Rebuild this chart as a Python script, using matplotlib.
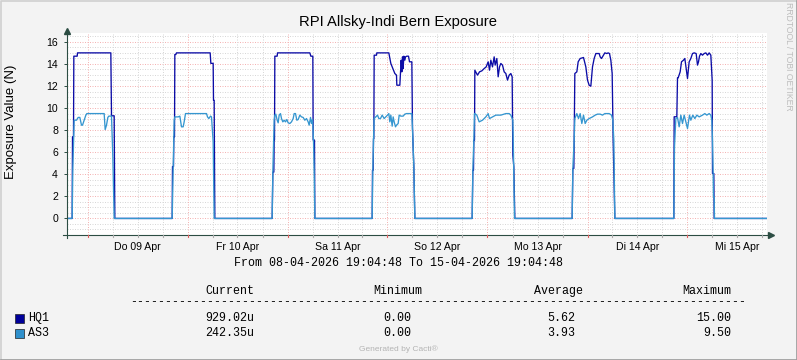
import numpy as np
import matplotlib
matplotlib.use("Agg")
import matplotlib.pyplot as plt
from matplotlib.lines import Line2D
from matplotlib.patches import Rectangle

# hours relative to 2026-04-09 00:00 ; window 08-04 19:04:48 -> 15-04 19:04:48
t_start = -4.92
t_end = 163.08

hq1_hours = [
    -4.92, -3.68, -3.60, -3.36, -3.28, -2.48, -2.40, 5.60, 5.76, 6.40, 6.56,
    20.32, 20.40, 20.64, 20.72, 20.88, 20.96, 21.20, 21.36, 29.44, 29.60, 30.16, 30.24, 30.40, 30.56,
    44.32, 44.48, 44.72, 44.80, 44.88, 44.96, 45.52, 45.60, 53.36, 53.60, 54.08, 54.16, 54.48, 54.56,
    68.32, 68.40, 68.56, 68.64, 68.72, 68.80, 69.36, 69.44, 72.32, 72.80, 73.28, 73.76, 74.16, 74.24,
    74.96, 75.12, 75.28, 75.44, 75.60, 75.76, 75.92, 76.16, 76.32, 76.64, 77.04, 77.28, 77.84, 78.00,
    78.32, 78.56,
    92.32, 92.48, 92.64, 92.72, 92.88, 92.96, 93.60, 94.08, 94.64, 95.20, 95.68, 96.16, 96.48, 96.80,
    97.20, 97.60, 97.84, 98.24, 98.56, 98.88, 99.20, 99.60, 100.00, 100.40, 100.80, 101.20, 101.60,
    101.92, 102.08, 102.32, 102.56,
    116.32, 116.48, 116.72, 116.80, 116.96, 117.44, 117.76, 118.24, 119.04, 119.60, 120.00, 120.40,
    120.80, 121.20, 121.60, 122.00, 122.80, 123.04, 123.36, 123.84, 124.16, 124.64, 124.96, 125.28,
    125.60, 125.92, 126.16, 126.56,
    140.72, 140.80, 141.44, 141.60, 141.76, 142.24, 142.56, 143.04, 143.36, 143.68, 144.00, 144.40,
    144.80, 145.20, 145.60, 146.08, 146.40, 146.64, 146.88, 147.20, 147.60, 148.00, 148.40, 148.80,
    149.20, 149.60, 149.76, 149.92, 150.00, 150.32, 150.40, 163.08,
]
hq1_values = [
    0, 0, 7.4, 7.4, 14.7, 14.7, 15.0, 15.0, 9.3, 9.3, 0,
    0, 4.7, 4.7, 7.4, 7.4, 14.85, 14.85, 15.0, 15.0, 14.05, 14.05, 10.7, 10.7, 0,
    0, 4.2, 4.2, 7.1, 7.1, 14.7, 14.7, 15.0, 15.0, 14.7, 14.7, 7.1, 7.1, 0,
    0, 4.37, 4.37, 7.24, 7.24, 14.79, 14.79, 15.0, 15.0, 14.04, 13.58, 13.13, 12.98, 12.07,
    12.07, 13.13, 14.34, 13.28, 14.64, 13.58, 14.7, 14.34, 14.64, 14.7, 14.7, 14.19, 14.19, 8.15,
    4.68, 0,
    0, 4.37, 4.37, 7.09, 7.09, 13.43, 12.98, 13.28, 13.37, 13.58, 13.73, 14.19, 13.43, 14.34,
    13.73, 14.64, 13.89, 14.49, 12.83, 13.73, 14.04, 13.89, 13.28, 13.13, 12.53, 12.98, 13.13,
    12.83, 5.73, 4.68, 0,
    0, 4.53, 4.53, 7.09, 13.13, 13.28, 14.19, 14.49, 14.58, 13.73, 12.53, 12.07,
    11.98, 13.73, 14.49, 14.94, 14.94, 14.64, 14.49, 14.79, 15.0, 14.94, 15.0, 14.94,
    14.34, 13.13, 7.09, 0,
    0, 9.21, 9.21, 12.74, 12.74, 13.28, 14.19, 14.34, 14.49, 13.58, 12.68, 14.19,
    14.49, 14.94, 15.0, 14.94, 13.89, 14.19, 14.7, 14.94, 14.79, 14.94, 15.0, 14.79,
    15.0, 14.79, 13.73, 12.53, 4.07, 4.07, 0, 0,
]

as3_hours = [
    -4.92, -3.68, -3.52, -3.20, -2.64, -2.24, -1.84, -1.44, -1.20, -0.80, -0.40, -0.16, 4.00, 4.24,
    4.56, 4.88, 5.12, 5.76, 6.08, 6.40,
    20.32, 20.56, 20.80, 20.96, 21.76, 22.16, 22.56, 22.96, 23.20, 23.52, 28.56, 28.80, 29.12, 29.52,
    29.76, 30.16, 30.40,
    44.32, 44.48, 44.80, 44.96, 45.20, 45.52, 45.76, 46.00, 46.32, 46.56, 46.88, 47.20, 47.52, 47.84,
    48.16, 48.56, 48.96, 49.36, 49.60, 49.92, 50.24, 50.56, 50.96, 51.36, 51.76, 52.16, 52.56, 52.96,
    53.20, 53.52, 53.76, 54.00, 54.24, 54.40, 54.56,
    68.32, 68.48, 68.64, 68.80, 69.20, 69.60, 69.92, 70.32, 70.72, 71.20, 71.60, 72.00, 72.32, 72.56,
    72.80, 73.12, 73.36, 73.60, 73.92, 74.16, 74.56, 74.80, 75.20, 75.76, 76.16, 76.56, 77.84, 78.00,
    78.32, 78.56,
    92.32, 92.48, 92.72, 92.88, 92.96, 93.44, 94.00, 94.80, 95.60, 96.16, 96.48, 97.20, 98.00, 99.20,
    100.40, 101.20, 101.60, 102.08, 102.24, 102.48,
    116.32, 116.48, 116.80, 116.96, 117.44, 117.84, 118.24, 118.64, 119.04, 119.44, 119.84, 120.40,
    121.20, 121.84, 122.40, 123.04, 123.60, 124.16, 125.20, 125.76, 126.08, 126.32, 126.56,
    140.72, 140.88, 141.20, 141.60, 142.00, 142.40, 142.80, 143.20, 143.60, 144.00, 144.48, 144.80,
    145.28, 145.76, 146.24, 146.80, 147.60, 148.16, 148.64, 149.20, 149.60, 149.84, 150.00, 150.16,
    150.24, 150.40, 150.48, 163.08,
]
as3_values = [
    0, 0, 4.5, 8.9, 8.9, 9.15, 9.15, 8.45, 8.45, 8.9, 9.35, 9.5, 9.5, 8.05,
    8.45, 9.15, 9.27, 9.27, 5.58, 0,
    0, 4.7, 8.9, 9.2, 9.2, 9.27, 8.3, 8.3, 8.75, 9.5, 9.5, 9.2, 9.05, 9.27,
    9.2, 6.94, 0,
    0, 4.22, 8.9, 9.36, 9.45, 8.9, 8.66, 9.36, 9.5, 9.05, 8.75, 8.9, 8.75, 8.96,
    8.66, 8.6, 8.75, 9.05, 9.5, 9.5, 8.9, 8.96, 9.36, 9.2, 9.15, 8.9, 9.05, 8.75,
    8.45, 9.15, 8.6, 8.96, 7.09, 4.22, 0,
    0, 4.37, 7.09, 9.05, 9.2, 9.36, 9.05, 9.05, 9.36, 9.05, 9.2, 9.36, 9.5, 8.75,
    9.36, 8.36, 9.2, 8.75, 8.3, 8.45, 8.6, 9.36, 9.27, 9.27, 9.45, 9.5, 9.5, 8.15,
    4.68, 0,
    0, 4.37, 7.09, 9.5, 9.5, 9.36, 8.75, 8.9, 9.2, 9.5, 9.05, 9.2, 9.36, 9.36,
    9.5, 9.5, 9.36, 8.9, 5.73, 0,
    0, 4.53, 7.09, 9.05, 9.5, 9.05, 9.5, 8.6, 9.36, 8.6, 8.9, 9.05,
    9.2, 9.36, 9.45, 9.45, 9.36, 9.5, 9.5, 9.36, 8.9, 7.09, 0,
    0, 6.49, 9.05, 9.15, 8.3, 9.36, 8.6, 9.36, 8.75, 8.15, 9.36, 8.9,
    9.36, 9.05, 9.36, 9.2, 9.36, 9.5, 9.36, 9.5, 9.36, 8.9, 7.09, 4.07,
    1.96, 1.96, 0, 0,
]

day_labels = ["Do 09 Apr", "Fr 10 Apr", "Sa 11 Apr", "So 12 Apr", "Mo 13 Apr", "Di 14 Apr", "Mi 15 Apr"]
y_ticks = [0, 2, 4, 6, 8, 10, 12, 14, 16]

series_names = ["HQ1", "AS3"]
stat_current = ["929.02u", "242.35u"]
stat_minimum = ["0.00", "0.00"]
stat_average = ["5.62", "3.93"]
stat_maximum = ["15.00", "9.50"]

hq1_color = "#0C0CA6"
as3_color = "#3596D0"
axis_color = "#2C4D43"

W, H = 797, 360
fig = plt.figure(figsize=(W / 100, H / 100), dpi=100, facecolor="#F3F3F3")
ax = fig.add_axes([67 / W, 125 / H, 700 / W, 202 / H])
ax.set_facecolor("white")
ax.set_xlim(t_start, t_end)
ax.set_ylim(-1.5, 16.8)
for s in ax.spines.values():
    s.set_visible(False)

# grid lines
for v in np.arange(-1.0, 16.8, 0.5):
    major = (v % 2 == 0)
    ax.axhline(v, color="#F4B4B4" if major else "#D8D8D8", lw=0.72,
               ls=(0, (1, 1.5)), zorder=1)
for h in range(0, 163, 6):
    major = (h % 24 == 0)
    ax.axvline(h, color="#F4B4B4" if major else "#D8D8D8", lw=0.72,
               ls=(0, (1, 1.5)), zorder=1)

ax.plot(hq1_hours, hq1_values, color=hq1_color, lw=0.95, zorder=3)
ax.plot(as3_hours, as3_values, color=as3_color, lw=0.95, zorder=4)

# ticks / labels
ax.set_xticks([12 + 24 * i for i in range(len(day_labels))])
ax.set_xticklabels(day_labels, family="Liberation Sans", fontsize=7.6)
ax.tick_params(axis="x", length=0, pad=5)
ax.set_yticks(y_ticks)
ax.set_yticklabels([str(t) for t in y_ticks], family="Liberation Sans", fontsize=7.6)
ax.tick_params(axis="y", length=2.5, width=0.7, color=axis_color, pad=4)

# axis lines with arrows
ax.plot([-0.006, 1.004], [0, 0], transform=ax.transAxes, color=axis_color, lw=0.8,
        clip_on=False, zorder=5)
ax.plot([0, 0], [-0.015, 1.005], transform=ax.transAxes, color=axis_color, lw=0.8,
        clip_on=False, zorder=5)
ax.plot([1.006], [0], marker=">", ms=4, color=axis_color, transform=ax.transAxes,
        clip_on=False, zorder=5)
ax.plot([0], [1.01], marker="^", ms=4, color=axis_color, transform=ax.transAxes,
        clip_on=False, zorder=5)
# small tick marks on x axis
for h in range(0, 163, 6):
    c = "#E06060" if h % 24 == 0 else "#AAAAAA"
    ax.plot([h, h], [-0.012, 0], transform=ax.get_xaxis_transform(), color=c, lw=0.8,
            clip_on=False, zorder=5)

def fx(px):
    return px / W

def fy(py):
    return 1 - py / H

fig.text(fx(398), fy(22), "RPI Allsky-Indi Bern Exposure", family="Liberation Sans",
         fontsize=10.6, ha="center", va="center")
fig.text(fx(11), fy(122), "Exposure Value (N)", family="Liberation Sans", fontsize=9.5,
         rotation=90, ha="center", va="center")
fig.text(fx(789), fy(56), "RRDTOOL / TOBI OETIKER", family="Liberation Sans", fontsize=6.2,
         rotation=270, ha="center", va="center", color="#BDBDBD")

mono = dict(family="Liberation Mono", fontsize=8.4, va="center")
fig.text(fx(398), fy(263), "From 08-04-2026 19:04:48 To 15-04-2026 19:04:48", ha="center", **mono)

col_right = [254, 422, 583, 731]
val_right = [254, 411, 575, 731]
for x, name in zip(col_right, ["Current", "Minimum", "Average", "Maximum"]):
    fig.text(fx(x), fy(291), name, ha="right", **mono)
fig.text(fx(130), fy(302), "-" * 88, ha="left", **mono)

row_y = [318, 333]
square_colors = ["#00009A", "#2F90CC"]
for i, name in enumerate(series_names):
    y = row_y[i]
    fig.patches.append(Rectangle((fx(15), fy(y + 4.5)), 9 / W, 9 / H, transform=fig.transFigure,
                                 facecolor=square_colors[i], edgecolor="#222222", lw=0.5))
    fig.text(fx(28), fy(y), name, ha="left", **mono)
    for x, vals in zip(val_right, [stat_current, stat_minimum, stat_average, stat_maximum]):
        fig.text(fx(x), fy(y), vals[i], ha="right", **mono)

fig.text(fx(398), fy(349), "Generated by Cacti®", family="Liberation Sans", fontsize=6.0,
         ha="center", va="center", color="#B4B4B4")

# frame around the image
fig.lines.append(Line2D([0.5 / W, 0.5 / W, 1 - 0.5 / W], [0.5 / H, 1 - 0.5 / H, 1 - 0.5 / H],
                        transform=fig.transFigure, color="#D0D0D0", lw=1.2))
fig.lines.append(Line2D([0.5 / W, 1 - 0.5 / W, 1 - 0.5 / W], [0.5 / H, 0.5 / H, 1 - 0.5 / H],
                        transform=fig.transFigure, color="#9A9A9A", lw=1.2))

fig.savefig("out.png", dpi=100, facecolor=fig.get_facecolor())
